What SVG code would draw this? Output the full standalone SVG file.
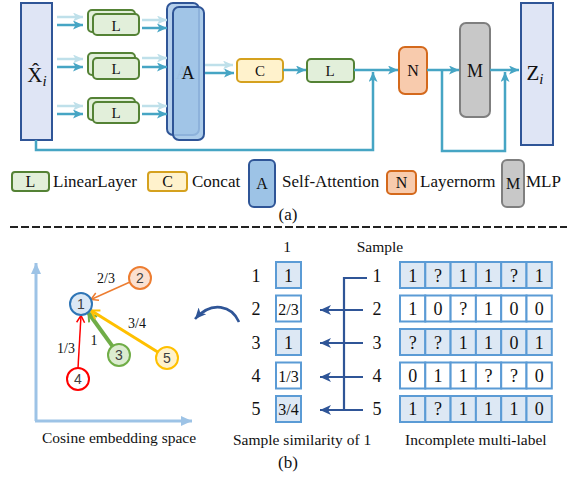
<svg xmlns="http://www.w3.org/2000/svg" width="579" height="477" viewBox="0 0 579 477">
  <style>
    text { font-family: "Liberation Serif", "Times New Roman", serif; fill: #111; }
    .box-l { fill: #e2efda; stroke: #548235; stroke-width: 2; }
    .box-c { fill: #fff2cc; stroke: #d5a11e; stroke-width: 2; }
    .box-a { fill: #9dc3e6; stroke: #2f5597; stroke-width: 2; }
    .box-n { fill: #f8cbad; stroke: #d4691c; stroke-width: 2; }
    .box-m { fill: #c8c8c8; stroke: #7f7f7f; stroke-width: 2; }
    .box-io { fill: #dfe5f5; stroke: #2f5597; stroke-width: 2; }
    .flow-a { fill: none; stroke: #46a5c4; stroke-width: 2.5; marker-end: url(#tip-dark); }
    .flow-b { fill: none; stroke: #bfe0ea; stroke-width: 2.5; marker-end: url(#tip-light); }
    .mid { text-anchor: middle; }
    .leg { font-size: 17px; }
    .cell { stroke: #5b9bd5; stroke-width: 2; }
    .on { fill: #dde8f4; }
    .off { fill: #ffffff; }
    .num { font-size: 18px; text-anchor: middle; }
    .cap { font-size: 15.5px; }
    .node-label { font-family: "Liberation Sans", Arial, sans-serif; font-size: 14px; fill: #404040; text-anchor: middle; }
    .edge-label { font-size: 14px; text-anchor: middle; }
    .bracket { fill: none; stroke: #2f5597; stroke-width: 2.2; }
  </style>
  <defs>
    <marker id="tip-dark" markerUnits="userSpaceOnUse" markerWidth="11" markerHeight="9" refX="10" refY="4.5" orient="auto">
      <path d="M0,0 L10,4.5 L0,9 L2.5,4.5 z" fill="#46a5c4"/>
    </marker>
    <marker id="tip-light" markerUnits="userSpaceOnUse" markerWidth="11" markerHeight="9" refX="10" refY="4.5" orient="auto">
      <path d="M0,0 L10,4.5 L0,9 L2.5,4.5 z" fill="#bfe0ea"/>
    </marker>
    <marker id="tip-navy" markerUnits="userSpaceOnUse" markerWidth="12" markerHeight="10" refX="11" refY="5" orient="auto">
      <path d="M0,0 L11,5 L0,10 L3,5 z" fill="#2f5597"/>
    </marker>
    <marker id="tip-axis" markerUnits="userSpaceOnUse" markerWidth="12" markerHeight="10" refX="11" refY="5" orient="auto">
      <path d="M0,0 L11,5 L0,10 z" fill="#9dc3e6"/>
    </marker>
    <marker id="v-orange" markerUnits="userSpaceOnUse" markerWidth="10" markerHeight="10" refX="8" refY="5" orient="auto">
      <path d="M1,1 L8,5 L1,9" fill="none" stroke="#ed7d31" stroke-width="1.5"/>
    </marker>
    <marker id="v-red" markerUnits="userSpaceOnUse" markerWidth="10" markerHeight="10" refX="8" refY="5" orient="auto">
      <path d="M1,1 L8,5 L1,9" fill="none" stroke="#ff0000" stroke-width="1.5"/>
    </marker>
    <marker id="v-green" markerUnits="userSpaceOnUse" markerWidth="12" markerHeight="12" refX="9" refY="6" orient="auto">
      <path d="M1,1 L9,6 L1,11" fill="none" stroke="#70ad47" stroke-width="2"/>
    </marker>
    <marker id="v-yellow" markerUnits="userSpaceOnUse" markerWidth="12" markerHeight="12" refX="9" refY="6" orient="auto">
      <path d="M1,1 L9,6 L1,11" fill="none" stroke="#ffc000" stroke-width="2"/>
    </marker>
  </defs>

  <!-- ===== (a) encoder block ===== -->
  <g id="input-x">
    <rect class="box-io" x="21" y="3" width="31" height="137"/>
    <text x="37" y="82" font-size="21" text-anchor="middle">X̂<tspan font-style="italic" font-size="15" dy="4">i</tspan></text>
  </g>

  <!-- stacked linear layers: a back copy peeks out behind each front box -->
  <g id="linear-1">
    <rect class="box-l" x="88" y="10" width="47" height="22" rx="4"/>
    <rect class="box-l" x="93" y="14" width="46" height="21" rx="4"/>
    <text x="116" y="31" font-size="15" class="mid">L</text>
  </g>
  <g id="linear-2">
    <rect class="box-l" x="88" y="53" width="47" height="22" rx="4"/>
    <rect class="box-l" x="93" y="58" width="46" height="21" rx="4"/>
    <text x="116" y="74" font-size="15" class="mid">L</text>
  </g>
  <g id="linear-3">
    <rect class="box-l" x="88" y="98" width="47" height="22" rx="4"/>
    <rect class="box-l" x="93" y="102" width="46" height="21" rx="4"/>
    <text x="116" y="118" font-size="15" class="mid">L</text>
  </g>

  <g id="attention">
    <rect class="box-a" x="167" y="3" width="32" height="132" rx="6" style="fill:#b4cfec"/>
    <text x="182" y="79" font-size="18" class="mid" fill-opacity="0.25">A</text>
    <rect class="box-a" x="173" y="7" width="31" height="133" rx="6" fill-opacity="0.85"/>
    <text x="188" y="79" font-size="18" class="mid">A</text>
  </g>

  <g id="concat">
    <rect class="box-c" x="237" y="59" width="46" height="23" rx="4"/>
    <text x="260" y="76" font-size="15" class="mid">C</text>
  </g>
  <g id="linear-out">
    <rect class="box-l" x="307" y="59" width="47" height="23" rx="4"/>
    <text x="330" y="76" font-size="15" class="mid">L</text>
  </g>
  <g id="layernorm">
    <rect class="box-n" x="399" y="47" width="28" height="47" rx="6"/>
    <text x="413" y="76" font-size="16" class="mid">N</text>
  </g>
  <g id="mlp">
    <rect class="box-m" x="460" y="23" width="30" height="94" rx="6"/>
    <text x="475" y="77" font-size="18" class="mid">M</text>
  </g>
  <g id="output-z">
    <rect class="box-io" x="521" y="3" width="32" height="142"/>
    <text x="535" y="80" font-size="21" text-anchor="middle">Z<tspan font-style="italic" font-size="15" dy="4">i</tspan></text>
  </g>

  <g id="connectors-a">
    <!-- input to linear layers -->
    <line class="flow-b" x1="57" y1="17" x2="83" y2="17"/>
    <line class="flow-a" x1="57" y1="25" x2="83" y2="25"/>
    <line class="flow-b" x1="57" y1="59" x2="83" y2="59"/>
    <line class="flow-a" x1="57" y1="67" x2="83" y2="67"/>
    <line class="flow-b" x1="57" y1="106" x2="83" y2="106"/>
    <line class="flow-a" x1="57" y1="114" x2="83" y2="114"/>
    <!-- linear layers to attention -->
    <line class="flow-b" x1="142" y1="20" x2="167" y2="20"/>
    <line class="flow-a" x1="142" y1="28" x2="167" y2="28"/>
    <line class="flow-b" x1="142" y1="58" x2="167" y2="58"/>
    <line class="flow-a" x1="142" y1="67" x2="167" y2="67"/>
    <line class="flow-b" x1="142" y1="106" x2="167" y2="106"/>
    <line class="flow-a" x1="142" y1="114" x2="167" y2="114"/>
    <!-- attention to concat -->
    <line class="flow-b" x1="205" y1="65" x2="233" y2="65"/>
    <line class="flow-a" x1="205" y1="73" x2="234" y2="73"/>
    <!-- main path -->
    <line class="flow-a" x1="283" y1="70" x2="306" y2="70"/>
    <line class="flow-a" x1="354" y1="70" x2="398" y2="70"/>
    <line class="flow-a" x1="427" y1="70" x2="459" y2="70"/>
    <line class="flow-a" x1="490" y1="70" x2="519" y2="70"/>
    <!-- residual connections -->
    <path class="flow-a" d="M36,140 V150 H373 V72"/>
    <path class="flow-a" d="M442,70 V151 H505 V72"/>
  </g>

  <!-- legend -->
  <g id="legend">
    <rect class="box-l" x="12" y="172" width="37" height="19" rx="3"/>
    <text x="30.5" y="187" font-size="16" class="mid">L</text>
    <text x="53" y="187" class="leg">LinearLayer</text>
    <rect class="box-c" x="148" y="172" width="39" height="19" rx="3"/>
    <text x="167.5" y="187" font-size="16" class="mid">C</text>
    <text x="192" y="187" class="leg">Concat</text>
    <rect class="box-a" x="249" y="160" width="26" height="47" rx="5"/>
    <text x="262" y="189" font-size="16" class="mid">A</text>
    <text x="282" y="187" class="leg">Self-Attention</text>
    <rect class="box-n" x="387" y="171" width="29" height="23" rx="4"/>
    <text x="401.5" y="188" font-size="16" class="mid">N</text>
    <text x="420" y="187" class="leg">Layernorm</text>
    <rect class="box-m" x="502" y="160" width="22" height="47" rx="5"/>
    <text x="513" y="189" font-size="16" class="mid">M</text>
    <text x="526" y="187" class="leg">MLP</text>
    <text x="288" y="220" class="leg mid">(a)</text>
  </g>

  <line x1="10" y1="227" x2="567" y2="227" stroke="#222" stroke-width="2" stroke-dasharray="8,3"/>

  <!-- ===== (b) similarity from incomplete labels ===== -->
  <g id="axes">
    <line x1="36" y1="421" x2="36" y2="263" stroke="#9dc3e6" stroke-width="3" marker-end="url(#tip-axis)"/>
    <line x1="35" y1="421" x2="192" y2="421" stroke="#9dc3e6" stroke-width="3" marker-end="url(#tip-axis)"/>
    <text x="42" y="443" class="cap">Cosine embedding space</text>
  </g>

  <g id="graph-edges">
    <line x1="130" y1="282" x2="91" y2="299.5" stroke="#ed7d31" stroke-width="1.5" marker-end="url(#v-orange)"/>
    <line x1="78" y1="368" x2="81" y2="315.5" stroke="#ff0000" stroke-width="1.5" marker-end="url(#v-red)"/>
    <line x1="112.4" y1="346.2" x2="88.5" y2="313" stroke="#70ad47" stroke-width="4" marker-end="url(#v-green)"/>
    <line x1="157.7" y1="352.1" x2="91" y2="310.5" stroke="#ffc000" stroke-width="3" marker-end="url(#v-yellow)"/>
    <text x="106" y="283" class="edge-label">2/3</text>
    <text x="137" y="328" class="edge-label">3/4</text>
    <text x="94" y="345" class="edge-label">1</text>
    <text x="66" y="353" class="edge-label">1/3</text>
  </g>

  <g id="sample-1">
    <circle cx="81" cy="304" r="11" fill="#dae8f5" stroke="#2e75b6" stroke-width="2"/>
    <text x="81" y="309" class="node-label">1</text>
  </g>
  <g id="sample-2">
    <circle cx="140" cy="278" r="11" fill="#fbe0d0" stroke="#ed7d31" stroke-width="2"/>
    <text x="140" y="283" class="node-label">2</text>
  </g>
  <g id="sample-3">
    <circle cx="119" cy="355" r="11" fill="#dcecd0" stroke="#70ad47" stroke-width="2"/>
    <text x="119" y="360" class="node-label">3</text>
  </g>
  <g id="sample-4">
    <circle cx="78" cy="379" r="11" fill="#ffffff" stroke="#ff0000" stroke-width="2"/>
    <text x="78" y="384" class="node-label">4</text>
  </g>
  <g id="sample-5">
    <circle cx="167" cy="358" r="11" fill="#fff2cc" stroke="#ffc000" stroke-width="2"/>
    <text x="167" y="363" class="node-label">5</text>
  </g>

  <path d="M239,322 C232,306 212,300 195,319" fill="none" stroke="#2f5597" stroke-width="2.6" marker-end="url(#tip-navy)"/>

  <!-- similarity column -->
  <g id="similarity">
    <text x="287" y="252" class="cap mid">1</text>
    <g class="num">
      <text x="256" y="282">1</text>
      <text x="256" y="315">2</text>
      <text x="256" y="349">3</text>
      <text x="256" y="382">4</text>
      <text x="256" y="415">5</text>
    </g>
    <rect class="cell on" x="276" y="262" width="25" height="26"/>
    <rect class="cell off" x="276" y="295.5" width="25" height="26"/>
    <rect class="cell on" x="276" y="329" width="25" height="26"/>
    <rect class="cell off" x="276" y="362.5" width="25" height="26"/>
    <rect class="cell on" x="276" y="396" width="25" height="26"/>
    <text x="288.5" y="282" class="num">1</text>
    <text x="288.5" y="315" font-size="16" text-anchor="middle">2/3</text>
    <text x="288.5" y="349" class="num">1</text>
    <text x="288.5" y="382" font-size="16" text-anchor="middle">1/3</text>
    <text x="288.5" y="415" font-size="16" text-anchor="middle">3/4</text>
    <text x="233" y="445" class="cap">Sample similarity of 1</text>
    <text x="288" y="468" class="leg mid">(b)</text>
  </g>

  <g id="connectors-b">
    <path class="bracket" d="M367,278 H344 V410"/>
    <line class="bracket" x1="363" y1="310" x2="320" y2="310" marker-end="url(#tip-navy)"/>
    <line class="bracket" x1="363" y1="343" x2="320" y2="343" marker-end="url(#tip-navy)"/>
    <line class="bracket" x1="363" y1="377" x2="320" y2="377" marker-end="url(#tip-navy)"/>
    <line class="bracket" x1="363" y1="410" x2="320" y2="410" marker-end="url(#tip-navy)"/>
  </g>

  <!-- label matrix -->
  <g id="labels">
    <text x="380" y="252" class="cap mid">Sample</text>
    <g class="num">
      <text x="377" y="282">1</text>
      <text x="377" y="315">2</text>
      <text x="377" y="349">3</text>
      <text x="377" y="382">4</text>
      <text x="377" y="415">5</text>
    </g>
    <g id="row-1">
      <rect class="cell on" x="400" y="262" width="25.3" height="26"/>
      <rect class="cell on" x="425.3" y="262" width="25.3" height="26"/>
      <rect class="cell on" x="450.6" y="262" width="25.3" height="26"/>
      <rect class="cell on" x="475.9" y="262" width="25.3" height="26"/>
      <rect class="cell on" x="501.2" y="262" width="25.3" height="26"/>
      <rect class="cell on" x="526.5" y="262" width="25.3" height="26"/>
      <g class="num"><text x="412.7" y="282">1</text><text x="438" y="282">?</text><text x="463.3" y="282">1</text><text x="488.6" y="282">1</text><text x="513.9" y="282">?</text><text x="539.2" y="282">1</text></g>
    </g>
    <g id="row-2">
      <rect class="cell off" x="400" y="295.5" width="25.3" height="26"/>
      <rect class="cell off" x="425.3" y="295.5" width="25.3" height="26"/>
      <rect class="cell off" x="450.6" y="295.5" width="25.3" height="26"/>
      <rect class="cell off" x="475.9" y="295.5" width="25.3" height="26"/>
      <rect class="cell off" x="501.2" y="295.5" width="25.3" height="26"/>
      <rect class="cell off" x="526.5" y="295.5" width="25.3" height="26"/>
      <g class="num"><text x="412.7" y="315">1</text><text x="438" y="315">0</text><text x="463.3" y="315">?</text><text x="488.6" y="315">1</text><text x="513.9" y="315">0</text><text x="539.2" y="315">0</text></g>
    </g>
    <g id="row-3">
      <rect class="cell on" x="400" y="329" width="25.3" height="26"/>
      <rect class="cell on" x="425.3" y="329" width="25.3" height="26"/>
      <rect class="cell on" x="450.6" y="329" width="25.3" height="26"/>
      <rect class="cell on" x="475.9" y="329" width="25.3" height="26"/>
      <rect class="cell on" x="501.2" y="329" width="25.3" height="26"/>
      <rect class="cell on" x="526.5" y="329" width="25.3" height="26"/>
      <g class="num"><text x="412.7" y="349">?</text><text x="438" y="349">?</text><text x="463.3" y="349">1</text><text x="488.6" y="349">1</text><text x="513.9" y="349">0</text><text x="539.2" y="349">1</text></g>
    </g>
    <g id="row-4">
      <rect class="cell off" x="400" y="362.5" width="25.3" height="26"/>
      <rect class="cell off" x="425.3" y="362.5" width="25.3" height="26"/>
      <rect class="cell off" x="450.6" y="362.5" width="25.3" height="26"/>
      <rect class="cell off" x="475.9" y="362.5" width="25.3" height="26"/>
      <rect class="cell off" x="501.2" y="362.5" width="25.3" height="26"/>
      <rect class="cell off" x="526.5" y="362.5" width="25.3" height="26"/>
      <g class="num"><text x="412.7" y="382">0</text><text x="438" y="382">1</text><text x="463.3" y="382">1</text><text x="488.6" y="382">?</text><text x="513.9" y="382">?</text><text x="539.2" y="382">0</text></g>
    </g>
    <g id="row-5">
      <rect class="cell on" x="400" y="396" width="25.3" height="26"/>
      <rect class="cell on" x="425.3" y="396" width="25.3" height="26"/>
      <rect class="cell on" x="450.6" y="396" width="25.3" height="26"/>
      <rect class="cell on" x="475.9" y="396" width="25.3" height="26"/>
      <rect class="cell on" x="501.2" y="396" width="25.3" height="26"/>
      <rect class="cell on" x="526.5" y="396" width="25.3" height="26"/>
      <g class="num"><text x="412.7" y="415">1</text><text x="438" y="415">?</text><text x="463.3" y="415">1</text><text x="488.6" y="415">1</text><text x="513.9" y="415">1</text><text x="539.2" y="415">0</text></g>
    </g>
    <text x="405" y="445" class="cap">Incomplete multi-label</text>
  </g>
</svg>
